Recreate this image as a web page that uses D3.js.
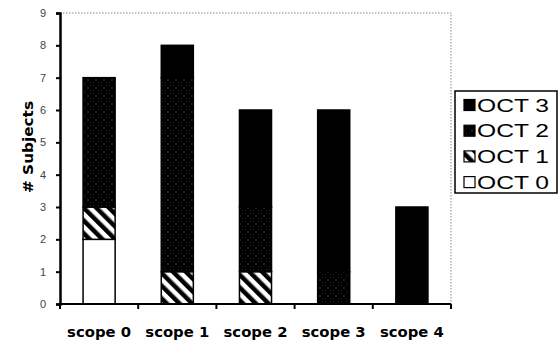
<!DOCTYPE html>
<html>
<head>
<meta charset="utf-8">
<script src="https://cdn.jsdelivr.net/npm/d3@7"></script>
<style>
  html, body { margin: 0; padding: 0; background: #fff; }
  svg { display: block; }
</style>
</head>
<body>
<svg id="chart" width="560" height="343"></svg>
<script>
// Subjects per scope, split by OCT grade
const categories = ["scope 0", "scope 1", "scope 2", "scope 3", "scope 4"];
const seriesNames = ["OCT 0", "OCT 1", "OCT 2", "OCT 3"];
const oct0 = [2, 0, 0, 0, 0];
const oct1 = [1, 1, 1, 0, 0];
const oct2 = [4, 6, 2, 1, 0];
const oct3 = [0, 1, 3, 5, 3];
const yTicks = [0, 1, 2, 3, 4, 5, 6, 7, 8, 9];

const rows = categories.map((c, i) => ({
  cat: c, "OCT 0": oct0[i], "OCT 1": oct1[i], "OCT 2": oct2[i], "OCT 3": oct3[i]
}));

const svg = d3.select("#chart");
const plot = { left: 60, right: 451, top: 13, bottom: 304 };
const heavyFont = "'DejaVu Sans', Arial, sans-serif";
const plainFont = "Arial, 'Liberation Sans', sans-serif";

const x = d3.scaleBand().domain(categories).range([plot.left, plot.right]).paddingInner(0.59).paddingOuter(0.295);
const xTickScale = d3.scaleBand().domain(categories).range([plot.left, plot.right]);
const y = d3.scaleLinear().domain([0, 9]).range([plot.bottom, plot.top]);

// fill patterns
const defs = svg.append("defs");
const stripes = defs.append("pattern")
  .attr("id", "stripes").attr("patternUnits", "userSpaceOnUse")
  .attr("width", 9).attr("height", 9).attr("patternTransform", "rotate(-45)");
stripes.append("rect").attr("width", 9).attr("height", 9).attr("fill", "#fff");
stripes.append("rect").attr("width", 4.5).attr("height", 9).attr("fill", "#000");

const hatch = defs.append("pattern")
  .attr("id", "hatch").attr("patternUnits", "userSpaceOnUse")
  .attr("width", 8).attr("height", 8);
hatch.append("rect").attr("width", 8).attr("height", 8).attr("fill", "#000");
hatch.append("path").attr("d", "M0,0 L8,8 M8,0 L0,8")
  .attr("stroke", "#555").attr("stroke-width", 0.6).attr("stroke-dasharray", "1,2.5").attr("fill", "none");

const fills = { "OCT 0": "#fff", "OCT 1": "url(#stripes)", "OCT 2": "url(#hatch)", "OCT 3": "#000" };

// plot frame (top and right edges dotted)
svg.append("path")
  .attr("d", `M${plot.left},${plot.top} H${plot.right} V${plot.bottom}`)
  .attr("fill", "none").attr("stroke", "#888").attr("stroke-width", 1).attr("stroke-dasharray", "1.5,1.5");

// stacked bars
const stack = d3.stack().keys(seriesNames)(rows);
const layer = svg.append("g").selectAll("g").data(stack).join("g")
  .attr("fill", d => fills[d.key]);
layer.selectAll("rect").data(d => d.filter(p => p[1] - p[0] > 0)).join("rect")
  .attr("x", d => x(d.data.cat))
  .attr("width", x.bandwidth())
  .attr("y", d => y(d[1]))
  .attr("height", d => y(d[0]) - y(d[1]))
  .attr("stroke", "#000").attr("stroke-width", 1.5);

// y axis
const yAxis = svg.append("g").attr("transform", `translate(${plot.left},0)`)
  .call(d3.axisLeft(y).tickValues(yTicks).tickSize(4).tickPadding(10).tickFormat(d3.format("d")));
yAxis.select(".domain").attr("stroke", "#000").attr("stroke-width", 2.5);
yAxis.selectAll(".tick line").attr("stroke", "#000").attr("stroke-width", 2);
yAxis.selectAll("text").attr("font-family", plainFont)
  .attr("font-size", 11).attr("fill", "#444");

// x axis with ticks at category boundaries
const xAxisG = svg.append("g").attr("transform", `translate(0,${plot.bottom})`);
xAxisG.append("line").attr("x1", plot.left).attr("x2", plot.right)
  .attr("stroke", "#000").attr("stroke-width", 2);
const bounds = categories.map(c => xTickScale(c)).concat([plot.right]);
xAxisG.selectAll("line.tk").data(bounds).join("line").attr("class", "tk")
  .attr("x1", d => d).attr("x2", d => d).attr("y1", 0).attr("y2", 5)
  .attr("stroke", "#000").attr("stroke-width", 2);
xAxisG.selectAll("text").data(categories).join("text")
  .attr("x", d => xTickScale(d) + xTickScale.bandwidth() / 2)
  .attr("y", 33)
  .attr("text-anchor", "middle")
  .attr("font-family", heavyFont)
  .attr("font-weight", "bold").attr("font-size", 14)
  .attr("textLength", 64).attr("lengthAdjust", "spacingAndGlyphs")
  .text(d => d);

// y axis title
svg.append("text")
  .attr("transform", "translate(33,147) rotate(-90)")
  .attr("text-anchor", "middle")
  .attr("font-family", heavyFont)
  .attr("font-weight", "bold").attr("font-size", 14)
  .attr("textLength", 92).attr("lengthAdjust", "spacingAndGlyphs")
  .text("# Subjects");

// legend, top entry is the top of the stack
const legend = svg.append("g");
legend.append("rect").attr("x", 455).attr("y", 91).attr("width", 102).attr("height", 102)
  .attr("fill", "#fff").attr("stroke", "#000").attr("stroke-width", 1.5);
const legendOrder = seriesNames.slice().reverse();
const item = legend.selectAll("g.item").data(legendOrder).join("g").attr("class", "item")
  .attr("transform", (d, i) => `translate(464,${105 + i * 25.7})`);
item.append("rect").attr("x", 0).attr("y", -5.5).attr("width", 11).attr("height", 11)
  .attr("fill", d => fills[d]).attr("stroke", "#000").attr("stroke-width", 1.2);
item.append("text").attr("x", 13).attr("y", 6.5)
  .attr("font-family", plainFont).attr("font-size", 18)
  .attr("textLength", 72).attr("lengthAdjust", "spacingAndGlyphs")
  .text(d => d);
</script>
</body>
</html>
